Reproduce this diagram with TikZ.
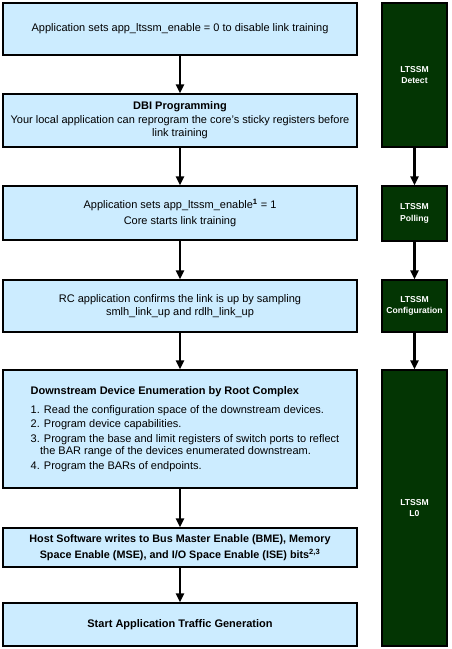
\documentclass[tikz,border=0pt]{standalone}
\usepackage{fontspec}
\setmainfont{Liberation Sans}
\usetikzlibrary{positioning,arrows.meta}

\definecolor{boxblue}{HTML}{CCECFF}
\definecolor{ltgreen}{HTML}{033503}

\newcommand{\ind}{\hspace*{10pt}}

\begin{document}
\begin{tikzpicture}[x=1pt, y=1pt, node distance={37.6pt},
    main/.style = {draw, line width=1.4pt, fill=boxblue, minimum width=354pt, inner sep=2pt, align=center, font=\fontsize{11}{13.5}\selectfont},
    ltssm/.style = {draw, line width=1.4pt, fill=ltgreen, text=white, minimum width=65pt, align=center, font=\fontsize{8.6}{11.5}\selectfont\bfseries},
    flow/.style = {line width=2.8pt, -{Triangle[width=8pt,length=9pt]}}]
            \useasboundingbox (0,0) rectangle (451,-649);

            \node[main, minimum height=52pt, anchor=north west] (1) at (2.3,-2.3) {Application sets app\_ltssm\_enable = 0 to disable link training};
            \node[main, minimum height=53pt] (2) [below=of 1] {\textbf{DBI Programming}\\Your local application can reprogram the core’s sticky registers before\\link training};
            \node[main, minimum height=54pt] (3) [below=of 2] {Application sets app\_ltssm\_enable\textsuperscript{\textbf{1}} = 1\\[2pt]Core starts link training};
            \node[main, minimum height=52pt] (4) [below=38.6pt of 3] {RC application confirms the link is up by sampling\\smlh\_link\_up and rdlh\_link\_up};
            \node[main, minimum height=118pt, align=left] (5) [below=36.6pt of 4] {%
                \ind\textbf{Downstream Device Enumeration by Root Complex}\\[5pt]%
                \ind 1. Read the configuration space of the downstream devices.\\[1pt]%
                \ind 2. Program device capabilities.\\[1pt]%
                \ind 3. Program the base and limit registers of switch ports to reflect\\[-1pt]%
                \ind\hspace*{0.85em}the BAR range of the devices enumerated downstream.\\[1pt]%
                \ind 4. Program the BARs of endpoints.};
            \node[main, minimum height=39pt, font=\fontsize{10.8}{15.5}\selectfont\bfseries] (6) [below=38.6pt of 5] {Host Software writes to Bus Master Enable (BME), Memory\\Space Enable (MSE), and I/O Space Enable (ISE) bits\textsuperscript{2,3}};
            \node[main, minimum height=43pt, font=\fontsize{11}{13.5}\selectfont\bfseries] (7) [below=34.6pt of 6] {Start Application Traffic Generation};

            \node[ltssm, minimum height=144pt, anchor=north west] (8) at (381.3,-2.3) {LTSSM\\Detect};
            \node[ltssm, minimum height=55pt] (9) [below=of 8] {LTSSM\\Polling};
            \node[ltssm, minimum height=52pt] (10) [below=of 9] {LTSSM\\Configuration};
            \node[ltssm, minimum height=276pt] (11) [below=36.6pt of 10] {LTSSM\\L0};

            \draw[flow] (1) -- (2);
            \draw[flow] (2) -- (3);
            \draw[flow] (3) -- (4);
            \draw[flow] (4) -- (5);
            \draw[flow] (5) -- (6);
            \draw[flow] (6) -- (7);

            \draw[flow] (8) -- (9);
            \draw[flow] (9) -- (10);
            \draw[flow] (10) -- (11);

        \end{tikzpicture}
\end{document}
